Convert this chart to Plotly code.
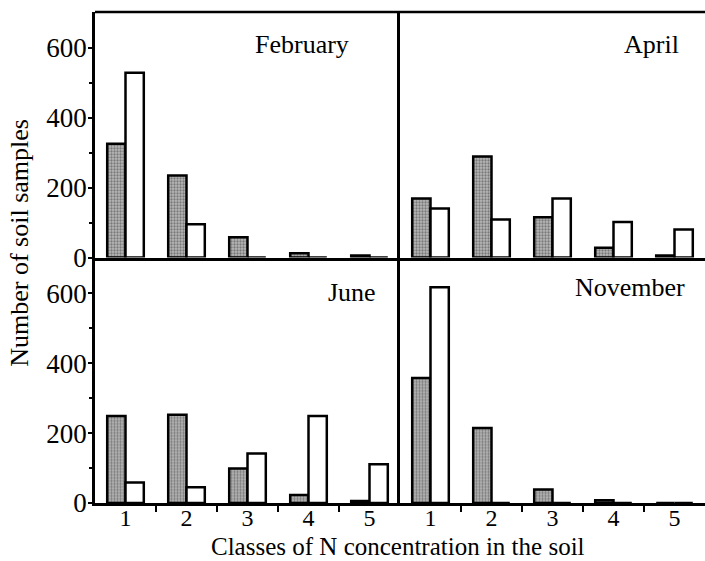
import plotly.graph_objects as go

classes = [1, 2, 3, 4, 5]
tick_labels = ["1", "2", "3", "4", "5"]
months = ["February", "April", "June", "November"]

grey_feb = [326, 235, 58, 12, 6]
white_feb = [529, 95, 0, 0, 0]
grey_apr = [169, 289, 115, 28, 6]
white_apr = [140, 109, 169, 102, 80]
grey_jun = [249, 253, 99, 23, 6]
white_jun = [59, 45, 142, 249, 111]
grey_nov = [358, 215, 39, 8, 0]
white_nov = [618, 0, 0, 0, 0]

grey_series = [grey_feb, grey_apr, grey_jun, grey_nov]
white_series = [white_feb, white_apr, white_jun, white_nov]

FONT = "Liberation Serif, Times New Roman, serif"
FS = 26

fig = go.Figure()

axes = [("x", "y"), ("x2", "y2"), ("x3", "y3"), ("x4", "y4")]
for i, (xa, ya) in enumerate(axes):
    fig.add_trace(go.Bar(
        x=classes, y=grey_series[i], xaxis=xa, yaxis=ya,
        marker=dict(color="#a8a8a8",
                    pattern=dict(shape=".", fgcolor="#3a3a3a", bgcolor="#b8b8b8", size=3, solidity=0.45),
                    line=dict(color="black", width=2.5)),
        showlegend=False, hoverinfo="skip"))
    fig.add_trace(go.Bar(
        x=classes, y=white_series[i], xaxis=xa, yaxis=ya,
        marker=dict(color="white", line=dict(color="black", width=2.5)),
        showlegend=False, hoverinfo="skip"))

xdom = [[0, 0.5], [0.5, 1.0], [0, 0.5], [0.5, 1.0]]
ydom = [[0.5, 1.0], [0.5, 1.0], [0, 0.5], [0, 0.5]]

layout = dict(
    width=705, height=561,
    margin=dict(l=95, r=0, t=12, b=58),
    paper_bgcolor="white", plot_bgcolor="white",
    barmode="group", bargap=0.4, bargroupgap=0.0,
    font=dict(family=FONT, size=FS, color="black"),
)

for i in range(4):
    xs = "xaxis" if i == 0 else f"xaxis{i+1}"
    ys = "yaxis" if i == 0 else f"yaxis{i+1}"
    ya = "y" if i == 0 else f"y{i+1}"
    xa = "x" if i == 0 else f"x{i+1}"
    bottom = i >= 2
    left = i % 2 == 0
    layout[xs] = dict(
        domain=xdom[i], anchor=ya, range=[0.5, 5.5],
        showline=True, linecolor="black", linewidth=2.5,
        showgrid=False, zeroline=False,
        tickmode="array", tickvals=classes,
        ticktext=tick_labels if bottom else [""] * 5,
        showticklabels=bottom, ticks="", ticklen=0,
        ticklabelstandoff=-9,
        tickfont=dict(family=FONT, size=24),
        minor=dict(tickmode="array", tickvals=[1.5, 2.5, 3.5, 4.5],
                   ticks="outside" if bottom else "", ticklen=6, tickwidth=2, tickcolor="black"),
    )
    layout[ys] = dict(
        domain=ydom[i], anchor=xa, range=[0, 703],
        showline=True, linecolor="black", linewidth=2.5,
        showgrid=False, zeroline=False,
        tickmode="array", tickvals=[0, 200, 400, 600],
        showticklabels=left,
        ticks="outside" if left else "", ticklen=4, tickwidth=2, tickcolor="black",
        ticklabelstandoff=-4,
        tickfont=dict(family=FONT, size=27),
        minor=dict(tickmode="array", tickvals=[100, 300, 500],
                   ticks="outside" if left else "", ticklen=3, tickwidth=2, tickcolor="black"),
    )

fig.update_layout(**layout)

fig.add_shape(type="line", xref="paper", yref="paper", x0=0, x1=1, y0=1, y1=1,
              line=dict(color="black", width=2.5))

label_pos = [(0.34, 0.933), (0.913, 0.933), (0.421, 0.428), (0.877, 0.438)]
for m, (lx, ly) in zip(months, label_pos):
    fig.add_annotation(text=m, xref="paper", yref="paper", x=lx, y=ly,
                       showarrow=False, xanchor="center", yanchor="middle",
                       font=dict(family=FONT, size=FS, color="black"))

fig.add_annotation(text="Number of soil samples", xref="paper", yref="paper",
                   x=-0.123, y=0.53, textangle=-90, showarrow=False,
                   xanchor="center", yanchor="middle",
                   font=dict(family=FONT, size=FS, color="black"))
fig.add_annotation(text="Classes of N concentration in the soil", xref="paper", yref="paper",
                   x=0.496, y=-0.0885, showarrow=False, xanchor="center", yanchor="middle",
                   font=dict(family=FONT, size=25, color="black"))

fig.write_html("out.html")
